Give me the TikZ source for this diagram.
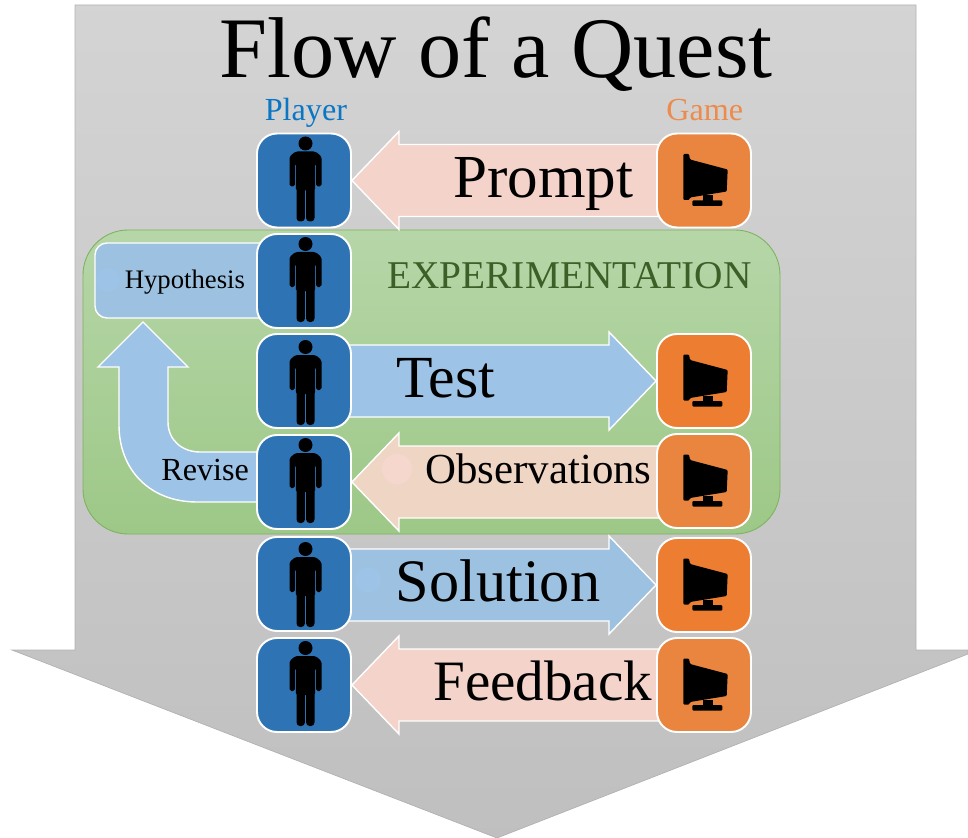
\documentclass[tikz,border=0pt]{standalone}
\usepackage{fontspec}
\setmainfont{Liberation Serif}
\usepackage{tikz}
\usetikzlibrary{calc}
\pgfdeclarelayer{back}
\pgfdeclarelayer{flow}
\pgfsetlayers{back,flow,main}
\definecolor{playerblue}{HTML}{2E74B5}
\definecolor{gameorange}{HTML}{ED7D31}
\definecolor{gamedull}{HTML}{EA8540}
\definecolor{flowblue}{HTML}{9DC3E6}
\definecolor{flowsteel}{HTML}{9DC1E0}
\definecolor{flowpink}{HTML}{F4D4CA}
\definecolor{flowtan}{HTML}{EFD5C4}
\definecolor{paneltop}{HTML}{B6D6A8}
\definecolor{panelbot}{HTML}{9DC887}
\definecolor{panelline}{HTML}{7DB25F}
\definecolor{panelword}{HTML}{3B5F26}
\definecolor{playerword}{HTML}{0B76C4}
\definecolor{gameword}{HTML}{ED8B4D}
\tikzset{
  iconbox/.style={draw=white,line width=1.1pt,rounded corners=0.4cm,minimum size=1.88cm,inner sep=0pt},
  blockarrow/.style={draw=white,line width=0.8pt,line join=miter},
  lbl/.style={anchor=base west,inner sep=0pt,font=\fontsize{#1}{#1}\selectfont},
  person/.pic={
    \fill (1.5,-37) circle[radius=7];
    \fill[rounded corners=1pt] (-14.5,6) -- (-14.5,-24) -- (-8.5,-29) -- (11.5,-29) -- (17.5,-24) -- (17.5,6)
      -- (12.1,6) -- (12.1,-17) -- (11.1,-17) -- (11.1,10) -- (-8.1,10) -- (-8.1,-17) -- (-9.1,-17) -- (-9.1,6) -- cycle;
    \fill[rounded corners=2pt] (-7.5,0) rectangle (0.9,41);
    \fill[rounded corners=2pt] (2.1,0) rectangle (10.5,41);
  },
  monitor/.pic={
    \fill[rounded corners=0.6pt] (-20.7,-26.5) -- (-15,-26.5) -- (-14,-21) -- (23.7,-11) -- (22.7,11) -- (-14,17) -- (-14.7,19.5) -- (-20.7,19.5) -- cycle;
    \fill (-1.3,15) rectangle (8.7,21);
    \fill[rounded corners=0.6pt] (-11.7,20) rectangle (18.3,25.5);
  }
}
\newcommand{\leftblock}[3]{
  \draw[blockarrow,fill=#3] (#2.east) -- ++(47,-49) -- ++(0,13) -- ($(#1.center |- #2.east)+(0,-36)$)
    -- ($(#1.center |- #2.east)+(0,36)$) -- ($(#2.east)+(47,36)$) -- ($(#2.east)+(47,49)$) -- cycle;
}
\newcommand{\rightblock}[3]{
  \draw[blockarrow,fill=#3] (#2.west) -- ++(-47,-49) -- ++(0,13) -- ($(#1.center |- #2.west)+(0,-36)$)
    -- ($(#1.center |- #2.west)+(0,36)$) -- ($(#2.west)+(-47,36)$) -- ($(#2.west)+(-47,49)$) -- cycle;
}
\begin{document}
\begin{tikzpicture}[x=0.02cm,y=-0.02cm]
   \useasboundingbox (0,0) rectangle (968,838);
   % Big arrow and experiment panel
   \begin{pgfonlayer}{back}
   \shade[top color=black!17,bottom color=black!25,draw=black!30,line width=0.4pt] (75,5) -- (916,5) -- (916,650) -- (968,650) -- (968,654) -- (497,838) -- (12,650) -- (75,650) -- cycle;
   \shade[top color=paneltop,bottom color=panelbot,draw=panelline,line width=0.5pt,rounded corners=0.9cm] (83,230) rectangle (780,534);
   \end{pgfonlayer}
   % Player boxes
   \foreach \name/\ypos/\fig in {p1/180.5/0,p2/281/0,p3/381/3,p4/482/0,p5/584/2,p6/685/0}{
     \node[iconbox,fill=playerblue] (\name) at (304,\ypos) {};
     \pic at ($(\name)+(0,\fig)$) {person};
   }
   % Game boxes
   \foreach \name/\ypos/\col in {g1/180.5/gamedull,g2/381/gameorange,g3/481/gamedull,g4/585/gameorange,g5/685/gamedull}{
     \node[iconbox,fill=\col] (\name) at (704,\ypos) {};
     \pic at (\name) {monitor};
   }
   % Block arrows
   \begin{pgfonlayer}{flow}
   \leftblock{g1}{p1}{flowpink}
   \rightblock{p3}{g2}{flowblue}
   \leftblock{g3}{p4}{flowtan}
   \rightblock{p5}{g4}{flowsteel}
   \leftblock{g5}{p6}{flowpink}
   \fill[flowpink!92!white] (397,469) circle[radius=15];
   \fill[flowblue] (368,580) circle[radius=13];
   % Hypothesis box
   \draw[blockarrow,fill=flowsteel,rounded corners=0.24cm] ($(p2.center)+(0,-38)$) -- (95,243) -- (95,318) -- ($(p2.center)+(0,37)$) -- cycle;
   \fill[flowblue] (108,280) circle[radius=12];
   % Revise arrow
   \draw[blockarrow,fill=flowblue] ($(p4.center)+(0,-30)$) -- (200,452) .. controls (182,452) and (168,440) .. (168,422) -- (168,367) -- (188,367) -- (143,322)
     -- (98,367) -- (119,367) -- (119,425) .. controls (119,470) and (150,502) .. (197,502) -- ($(p4.center)+(0,20)$) -- cycle;
   \end{pgfonlayer}
   % Labels
   \node[lbl=49.1] (title) at (219,78) {Flow of a Quest};
   \node[lbl=18.3,text=playerword] (player) at (264.5,121) {Player};
   \node[lbl=18.3,text=gameword] (game) at (666,121) {Game};
   \node[lbl=34.8] (prompt) at (453,198) {Prompt};
   \node[lbl=22.4,text=panelword] (expt) at (387,289) {EXPERIMENTATION};
   \node[lbl=15.2] (hypo) at (124.5,289) {Hypothesis};
   \node[lbl=34] (test) at (396,398) {Test};
   \node[lbl=18.3] (revise) at (161,480) {Revise};
   \node[lbl=24.4] (obs) at (425,483) {Observations};
   \node[lbl=34.3] (solution) at (395.5,601) {Solution};
   \node[lbl=32.5] (feedback) at (433,700) {Feedback};
\end{tikzpicture}
\end{document}
